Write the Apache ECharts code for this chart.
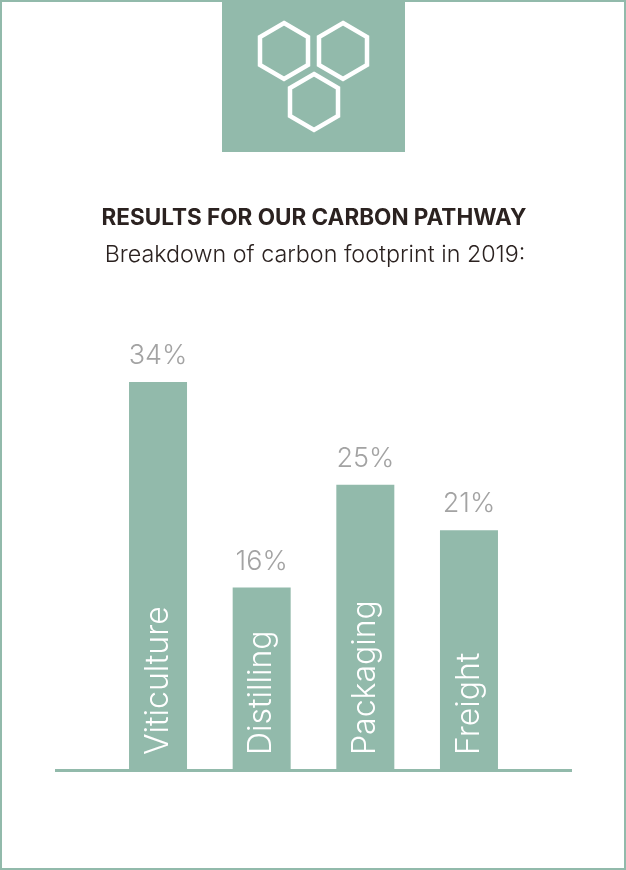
<!DOCTYPE html>
<html><head><meta charset="utf-8">
<style>html,body{margin:0;padding:0;background:#fff}#c{width:626px;height:870px}</style>
<script src="https://cdn.jsdelivr.net/npm/echarts@6/dist/echarts.min.js"></script>
</head><body><div id="c"></div>
<script>
const categories = ['Viticulture', 'Distilling', 'Packaging', 'Freight'];
const shares = [34, 16, 25, 21];
const titleText = 'RESULTS FOR OUR CARBON PATHWAY';
const subtitleText = 'Breakdown of carbon footprint in 2019:';
const green = '#92baab', ink = '#2b2220', grey = '#a3a3a3', face = 'Inter';

function hexagon(cx, cy) {
  const rx = 24, ry = 28;
  return {
    type: 'polygon', silent: true, z: 11,
    shape: { points: [[cx, cy - ry], [cx + rx, cy - ry / 2], [cx + rx, cy + ry / 2], [cx, cy + ry], [cx - rx, cy + ry / 2], [cx - rx, cy - ry / 2]] },
    style: { fill: 'transparent', stroke: '#fff', lineWidth: 4.5, lineJoin: 'miter' }
  };
}
const chart = echarts.init(document.getElementById('c'), null, { renderer: 'canvas' });
chart.setOption({
  animation: false,
  backgroundColor: '#fff',
  title: [
    { text: titleText, left: 309, top: 202, textAlign: 'center',
      textStyle: { fontFamily: face, fontWeight: 700, fontSize: 22.5, color: ink } },
    { text: subtitleText, left: 310, top: 238, textAlign: 'center',
      textStyle: { fontFamily: face, fontWeight: 300, fontSize: 23.3, color: ink } }
  ],
  grid: { left: 106.2, width: 414.6, top: 382, height: 388 },
  xAxis: {
    type: 'category', data: categories, z: 5,
    axisLine: { show: false }, axisTick: { show: false },
    axisLabel: { inside: true, rotate: 90, margin: 15, color: '#fff', fontFamily: face, fontWeight: 300, fontSize: 32 }
  },
  yAxis: { type: 'value', min: 0, max: 34, show: false, splitLine: { show: false } },
  series: [{
    type: 'bar', data: shares, barWidth: 58,
    itemStyle: { color: green },
    label: { show: true, position: 'top', distance: 12.5, formatter: '{c}%', color: grey, fontFamily: face, fontWeight: 300, fontSize: 27 }
  }],
  graphic: [
    { type: 'rect', silent: true, z: 0, shape: { x: 1, y: 1, width: 624, height: 868 }, style: { fill: 'transparent', stroke: green, lineWidth: 2 } },
    { type: 'line', silent: true, z: 1, shape: { x1: 55, y1: 770.5, x2: 572, y2: 770.5 }, style: { stroke: green, lineWidth: 3 } },
    { type: 'rect', silent: true, z: 10, shape: { x: 222, y: 1, width: 183, height: 151 }, style: { fill: green } },
    hexagon(284, 51), hexagon(343, 51), hexagon(314, 102)
  ]
});
</script></body></html>
